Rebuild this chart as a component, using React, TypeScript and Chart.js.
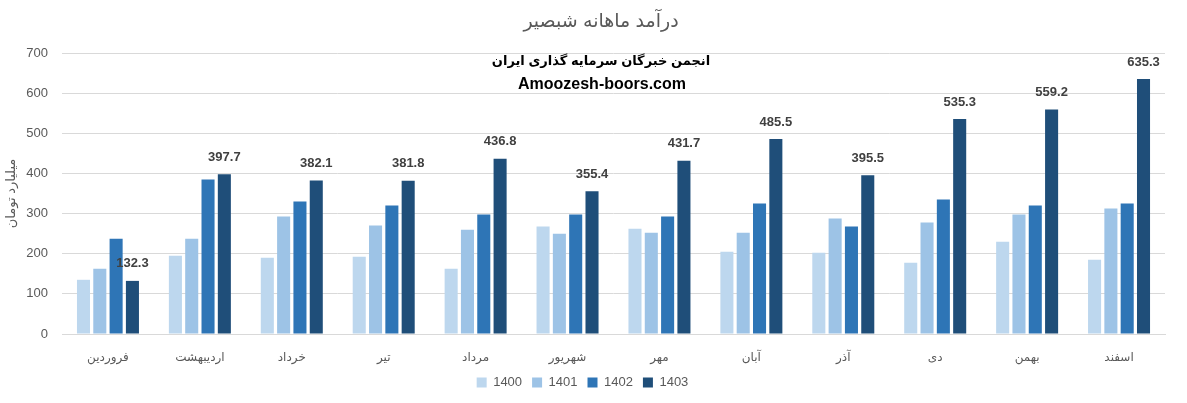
import React, { useEffect, useRef } from "react";
import { Chart, registerables } from "chart.js";

Chart.register(...registerables);

const categories = ["فروردین", "اردیبهشت", "خرداد", "تیر", "مرداد", "شهریور", "مهر", "آبان", "آذر", "دی", "بهمن", "اسفند"];
const seriesNames = ["1400", "1401", "1402", "1403"];
const values1400 = [135, 195, 190, 192.5, 162.5, 267.5, 262.5, 205, 202.5, 177.5, 230, 185];
const values1401 = [162.5, 237.5, 292.5, 270, 260, 250, 252.5, 252.5, 287.5, 277.5, 297.5, 312.5];
const values1402 = [237.5, 385, 330, 320, 297.5, 297.5, 292.5, 325, 267.5, 335, 320, 325];
const values1403 = [132.3, 397.7, 382.1, 381.8, 436.8, 355.4, 431.7, 485.5, 395.5, 535.3, 559.2, 635.3];
const seriesColors = ["#BDD7EE", "#9DC3E6", "#2E75B6", "#1F4E79"];
const yTicks = [0, 100, 200, 300, 400, 500, 600, 700];
const titleText = "درآمد ماهانه شبصیر";
const yTitle = "میلیارد تومان";
const watermark1 = "انجمن خبرگان سرمایه گذاری ایران";
const watermark2 = "Amoozesh-boors.com";

const FONT = "'Liberation Sans', 'DejaVu Sans', sans-serif";

export default function App() {
  const ref = useRef<HTMLCanvasElement | null>(null);
  useEffect(() => {
    document.body.style.margin = "0";
    const canvas = ref.current;
    if (!canvas) return;
    const overlay = {
      id: "overlay",
      afterDatasetsDraw(chart: any) {
        const ctx = chart.ctx;
        ctx.save();
        const meta = chart.getDatasetMeta(3);
        ctx.font = `bold 13px ${FONT}`;
        ctx.fillStyle = "#404040";
        ctx.textAlign = "center";
        ctx.textBaseline = "middle";
        meta.data.forEach((bar: any, i: number) => {
          ctx.fillText(values1403[i].toFixed(1), bar.x, bar.y - 17);
        });
        ctx.font = `19px ${FONT}`;
        ctx.fillStyle = "#595959";
        ctx.fillText(titleText, 601, 22);
        ctx.font = `bold 13px ${FONT}`;
        ctx.fillStyle = "#000000";
        ctx.fillText(watermark1, 601, 61);
        ctx.font = `bold 16px ${FONT}`;
        ctx.fillText(watermark2, 602, 85);
        ctx.restore();
      },
    };
    const datasets = [values1400, values1401, values1402, values1403].map((d, i) => ({
      label: seriesNames[i],
      data: d,
      backgroundColor: seriesColors[i],
      borderWidth: 0,
      categoryPercentage: 0.71,
      barPercentage: 0.8,
    }));
    const chart = new Chart(canvas, {
      type: "bar",
      data: { labels: categories, datasets },
      plugins: [overlay],
      options: {
        animation: false,
        responsive: false,
        maintainAspectRatio: false,
        layout: { padding: { top: 53, right: 22, left: 0, bottom: 4 } },
        plugins: {
          tooltip: { enabled: false },
          title: { display: false },
          legend: {
            position: "bottom",
            labels: {
              boxWidth: 10,
              boxHeight: 10,
              padding: 10,
              color: "#595959",
              font: { family: FONT, size: 13 },
            },
          },
        },
        scales: {
          x: {
            grid: { display: false },
            border: { display: true, color: "#D9D9D9" },
            ticks: { color: "#595959", font: { family: FONT, size: 12 }, padding: 8 },
            afterFit(scale: any) {
              scale.height = 32;
            },
          },
          y: {
            min: 0,
            max: 700,
            afterBuildTicks(scale: any) {
              scale.ticks = yTicks.map((v) => ({ value: v }));
            },
            grid: { color: "#D9D9D9", drawTicks: false },
            border: { display: false },
            ticks: { color: "#595959", font: { family: FONT, size: 13 }, padding: 14 },
            title: {
              display: true,
              text: yTitle,
              color: "#595959",
              font: { family: FONT, size: 13 },
              padding: { top: 4, bottom: 0 },
            },
            afterFit(scale: any) {
              scale.width = 62;
            },
          },
        },
      },
    });
    return () => chart.destroy();
  }, []);
  return (
    <div style={{ width: 1187, height: 403, background: "#fff" }}>
      <canvas ref={ref} width={1187} height={403} style={{ display: "block" }} />
    </div>
  );
}
